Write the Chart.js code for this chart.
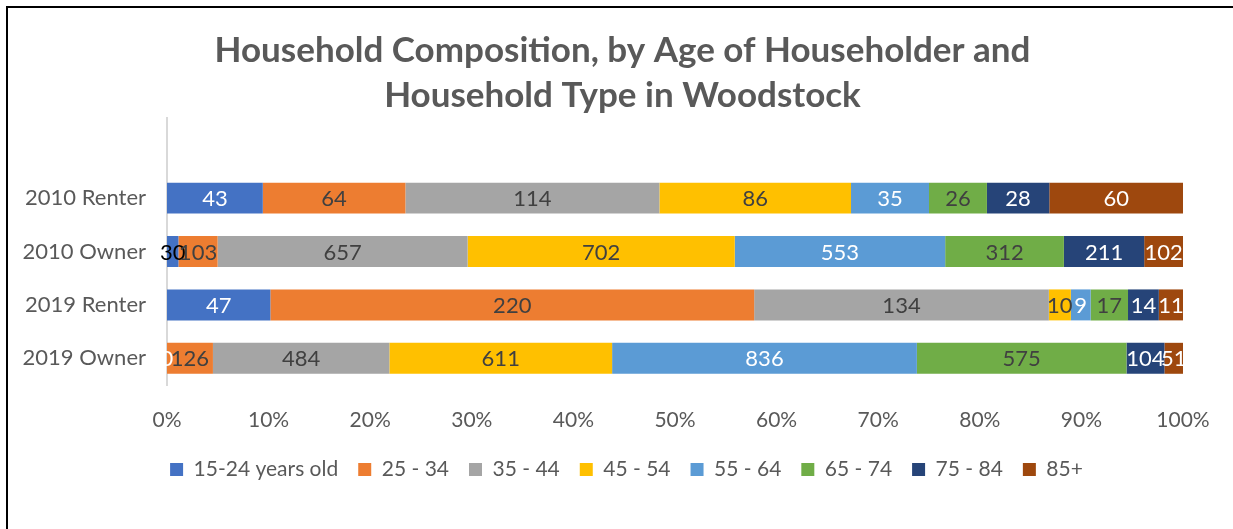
<!DOCTYPE html>
<html>
<head>
<meta charset="utf-8">
<script src="https://cdn.jsdelivr.net/npm/chart.js@4"></script>
<style>
  html, body { margin: 0; padding: 0; background: #fff; }
  .wrap { position: relative; width: 1233px; height: 529px; overflow: hidden; }
  .frame { position: absolute; left: 6px; top: 6px; width: 1300px; height: 600px; border-top: 2px solid #000; border-left: 2px solid #000; pointer-events: none; }
  canvas { position: absolute; left: 0; top: 0; }
</style>
</head>
<body>
<div class="wrap">
  <canvas id="chart" width="1233" height="529"></canvas>
  <div class="frame"></div>
</div>
<script>
// empty first slot keeps the gap above the bars, like the original plot area
const categories = ['', '2010 Renter', '2010 Owner', '2019 Renter', '2019 Owner'];
const seriesNames = ['15-24 years old', '25 - 34', '35 - 44', '45 - 54', '55 - 64', '65 - 74', '75 - 84', '85+'];
const age15to24 = [null, 43, 30, 47, 0];
const age25to34 = [null, 64, 103, 220, 126];
const age35to44 = [null, 114, 657, 134, 484];
const age45to54 = [null, 86, 702, 10, 611];
const age55to64 = [null, 35, 553, 9, 836];
const age65to74 = [null, 26, 312, 17, 575];
const age75to84 = [null, 28, 211, 14, 104];
const age85plus = [null, 60, 102, 11, 51];
const xTicks = [0, 10, 20, 30, 40, 50, 60, 70, 80, 90, 100];

const series = [age15to24, age25to34, age35to44, age45to54, age55to64, age65to74, age75to84, age85plus];
const colors = ['#4472c4', '#ed7d31', '#a5a5a5', '#ffc000', '#5b9bd5', '#70ad47', '#264478', '#9e480e'];
const DARK = '#404040';
const labelColors = [
  ['#fff', '#fff', '#000', '#fff', '#fff'],
  DARK, DARK, DARK, '#fff', DARK, '#fff', '#fff'
];
const FONT = 'Lato, "Open Sans", sans-serif';
const GREY = '#595959';

const totals = categories.map((_, i) => series.reduce((s, arr) => s + (arr[i] || 0), 0));

const datasets = series.map((arr, k) => ({
  label: seriesNames[k],
  raw: arr,
  data: arr.map((v, i) => v === null ? null : v / totals[i] * 100),
  backgroundColor: colors[k],
  borderWidth: 0,
  barPercentage: 0.58,
  categoryPercentage: 1
}));

const valueLabels = {
  id: 'valueLabels',
  afterDatasetsDraw(chart) {
    const ctx = chart.ctx;
    ctx.save();
    ctx.font = '22px ' + FONT;
    ctx.textAlign = 'center';
    ctx.textBaseline = 'middle';
    chart.data.datasets.forEach((ds, k) => {
      const meta = chart.getDatasetMeta(k);
      meta.data.forEach((bar, i) => {
        const v = ds.raw[i];
        if (v === null) return;
        const p = bar.getProps(['x', 'y', 'base'], true);
        const c = labelColors[k];
        ctx.fillStyle = Array.isArray(c) ? c[i] : c;
        ctx.fillText(String(v), (p.x + p.base) / 2, p.y + 1);
      });
    });
    ctx.restore();
  }
};

// title and legend in the original sit right of the canvas centre
const nudgeBoxes = {
  id: 'nudgeBoxes',
  afterLayout(chart) {
    const shift = (box, dx) => { if (box) { box.left += dx; box.right += dx; } };
    shift(chart.titleBlock, 30);
    shift(chart.legend, 34);
  }
};

new Chart(document.getElementById('chart'), {
  type: 'bar',
  data: { labels: categories, datasets },
  options: {
    indexAxis: 'y',
    responsive: false,
    animation: false,
    layout: { padding: { left: 2, right: 50, top: 8, bottom: 39 } },
    plugins: {
      title: {
        display: true,
        text: ['Household Composition, by Age of Householder and', 'Household Type in Woodstock'],
        color: GREY,
        font: { family: FONT, size: 35, weight: 'bold', lineHeight: 1.286 },
        padding: { top: 20, bottom: 0 }
      },
      legend: {
        position: 'bottom',
        labels: {
          color: GREY,
          font: { family: FONT, size: 21 },
          boxWidth: 13,
          boxHeight: 13,
          padding: 20
        }
      },
      tooltip: { enabled: false }
    },
    scales: {
      x: {
        stacked: true,
        min: 0,
        max: 100,
        afterBuildTicks: axis => { axis.ticks = xTicks.map(v => ({ value: v })); },
        afterFit: axis => { axis.height = 54; },
        grid: { display: false, drawTicks: false },
        border: { display: false },
        ticks: {
          color: GREY,
          font: { family: FONT, size: 21 },
          padding: 23,
          callback: v => v + '%'
        }
      },
      y: {
        stacked: true,
        afterFit: axis => { axis.width = 165; },
        grid: { display: false, drawTicks: false },
        border: { display: true, color: '#d9d9d9', width: 2 },
        ticks: {
          color: GREY,
          font: { family: FONT, size: 22 },
          padding: 21
        }
      }
    }
  },
  plugins: [valueLabels, nudgeBoxes]
});
</script>
</body>
</html>
